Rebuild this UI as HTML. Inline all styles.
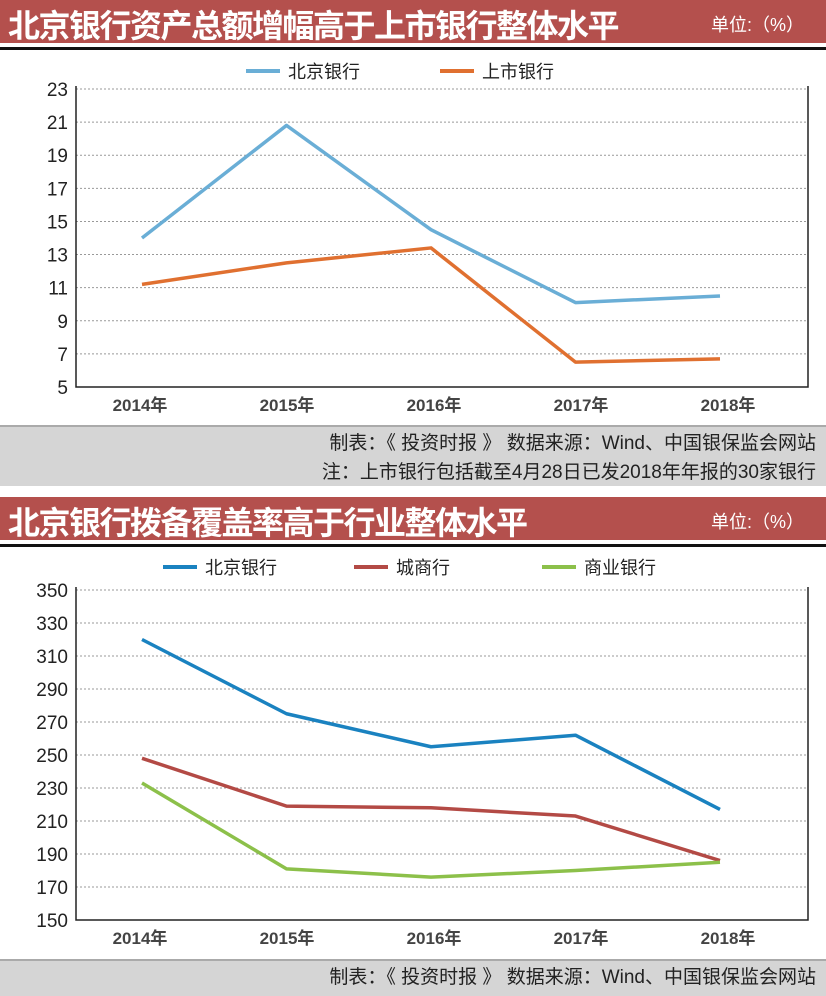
<!DOCTYPE html>
<html><head><meta charset="utf-8"><style>
body{margin:0;width:826px;height:996px;background:#fff;overflow:hidden;font-family:"Liberation Sans","Noto Sans CJK SC",sans-serif}
.hdr{position:absolute;left:0;width:826px;height:43px;background:#b4504d;color:#fff}
.hdr .t{position:absolute;left:8px;top:1px;font-size:32px;font-weight:bold;letter-spacing:-1.5px}
.hdr .u{position:absolute;right:22px;top:11px;font-size:18px}
.bl{position:absolute;left:0;width:826px;height:3px;background:#111}
.ft{position:absolute;left:0;width:826px;background:#d5d5d5;border-top:2px solid #aaa;font-size:19px;color:#222;text-align:right}
svg text{font-family:"Liberation Sans","Noto Sans CJK SC",sans-serif}
</style></head><body>
<div class="hdr" style="top:0"><span class="t">北京银行资产总额增幅高于上市银行整体水平</span><span class="u">单位:（%）</span></div>
<div class="bl" style="top:47px"></div>
<div class="ft" style="top:425px;height:61px;line-height:29px;padding-right:10px;box-sizing:border-box;padding-top:2px">制表：《 投资时报 》 数据来源：Wind、中国银保监会网站<br>注：上市银行包括截至4月28日已发2018年年报的30家银行</div>
<div class="hdr" style="top:497px"><span class="t">北京银行拨备覆盖率高于行业整体水平</span><span class="u">单位:（%）</span></div>
<div class="bl" style="top:544px"></div>
<div class="ft" style="top:959px;height:37px;line-height:34px;padding-right:10px;box-sizing:border-box">制表：《 投资时报 》 数据来源：Wind、中国银保监会网站</div>
<svg id="s" width="826" height="996" style="position:absolute;left:0;top:0"></svg>
<script>
const years=["2014年","2015年","2016年","2017年","2018年"];
const c1Ticks=[5,7,9,11,13,15,17,19,21,23];
const c1Bj=[14.0,20.8,14.5,10.1,10.5];
const c1Listed=[11.2,12.5,13.4,6.5,6.7];
const c2Ticks=[150,170,190,210,230,250,270,290,310,330,350];
const c2Bj=[320,275,255,262,217];
const c2City=[248,219,218,213,186];
const c2Comm=[233,181,176,180,185];
const NS="http://www.w3.org/2000/svg";
const svg=document.getElementById('s');
function mk(t,a,p){const e=document.createElementNS(NS,t);for(const k in a)e.setAttribute(k,a[k]);(p||svg).appendChild(e);return e;}
function chart(o){
 const L=76,R=808;
 const y=v=>o.bot-(v-o.min)/(o.max-o.min)*(o.bot-o.top);
 const x=i=>142+i*144.5;
 const xl=i=>140+i*147;
 o.ticks.forEach(t=>{
  if(t>o.min){const g=mk('line',{x1:L,x2:R,y1:y(t),y2:y(t),stroke:'#999','stroke-dasharray':'2,2','stroke-width':1});
  
  }
  const tx=mk('text',{x:L-8,y:y(t)+7,'text-anchor':'end','font-size':19,fill:'#222'});tx.textContent=t;
  
  
 });
 const ax=mk('path',{d:`M${L} ${o.top-3}V${o.bot}H${R}V${o.top-3}`,fill:'none',stroke:'#222','stroke-width':1.5});
 
 
 years.forEach((yr,i)=>{const t=mk('text',{x:xl(i),y:o.bot+24,'text-anchor':'middle','font-size':17,'font-weight':'bold',fill:'#444'});t.textContent=yr;
  
  });
 o.series.forEach((s,si)=>{
  const p=mk('polyline',{points:s.v.map((v,i)=>x(i)+','+y(v)).join(' '),fill:'none',stroke:s.c,'stroke-width':3.5,'stroke-linejoin':'round'});
  
  
  const lx=o.lx[si];
  const ll=mk('line',{x1:lx,x2:lx+34,y1:o.ly,y2:o.ly,stroke:s.c,'stroke-width':4});
  
  
  const lt=mk('text',{x:lx+42,y:o.ly+7,'font-size':18,fill:'#222'});lt.textContent=s.label;
  
  
 });
}
chart({top:89,bot:387,min:5,max:23,ticks:c1Ticks,ly:71,lx:[246,440],
 series:[{n:'beijing-bank',label:'北京银行',c:'#6aaed6',v:c1Bj},{n:'listed-banks',label:'上市银行',c:'#e07030',v:c1Listed}]});
chart({top:590,bot:920,min:150,max:350,ticks:c2Ticks,ly:567,lx:[163,354,542],
 series:[{n:'beijing-bank',label:'北京银行',c:'#1a82c0',v:c2Bj},{n:'city-banks',label:'城商行',c:'#b34a45',v:c2City},{n:'commercial-banks',label:'商业银行',c:'#8cc04a',v:c2Comm}]});
</script>
</body></html>
